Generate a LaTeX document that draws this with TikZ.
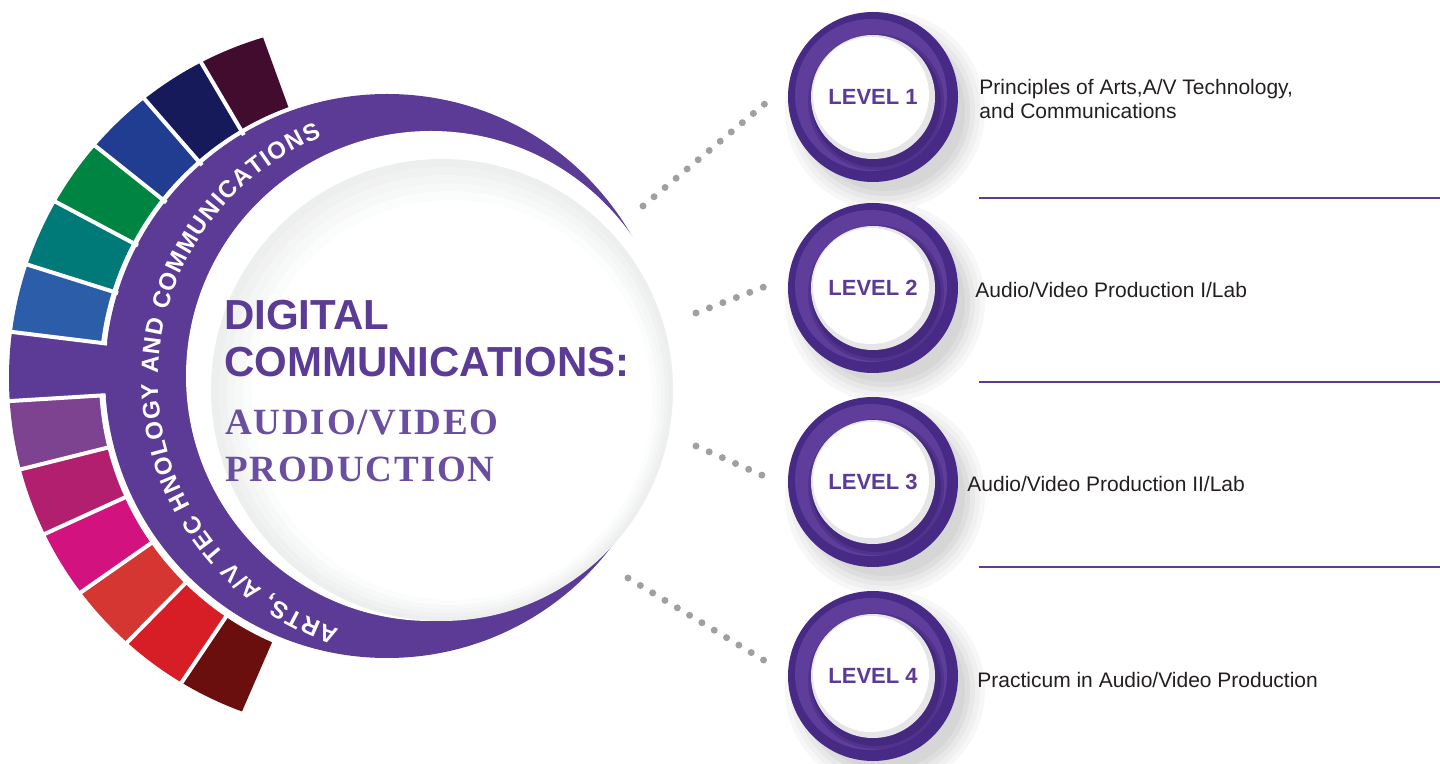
\documentclass[tikz,border=0pt]{standalone}
\usepackage{fontspec}
\setmainfont{Liberation Sans}
\newfontfamily\subfont{Liberation Serif}[LetterSpace=5]
\usetikzlibrary{positioning,decorations.text}

\definecolor{bandpurple}{HTML}{5B3B96}
\definecolor{subpurple}{HTML}{6A4E9F}
\definecolor{levdark}{HTML}{472A86}
\definecolor{levlight}{HTML}{5E3D9B}
\definecolor{levshade}{HTML}{3A2173}
\definecolor{dotgray}{HTML}{A0A0A2}
\definecolor{bodytext}{HTML}{231F20}
\definecolor{discgray}{HTML}{EDEEEE}
\definecolor{btngray}{HTML}{E6E6E8}
\definecolor{segmaroon}{HTML}{420C2E}
\definecolor{segnavy}{HTML}{161A5B}
\definecolor{segblue}{HTML}{213D92}
\definecolor{seggreen}{HTML}{008442}
\definecolor{segteal}{HTML}{007A78}
\definecolor{segsky}{HTML}{2C5DA8}
\definecolor{segviolet}{HTML}{7D4391}
\definecolor{segberry}{HTML}{B21F6F}
\definecolor{segpink}{HTML}{D2127F}
\definecolor{segcoral}{HTML}{D53632}
\definecolor{segred}{HTML}{D71E26}
\definecolor{segbrown}{HTML}{6A0E0E}

\begin{document}
\begin{tikzpicture}[x=1pt, y=1pt,
		sep/.style={white, line width=4pt},
		dots/.style={dotgray, line width=7pt, line cap=round, dash pattern=on 0pt off 14.4pt},
		lvl/.style={circle, minimum size=170pt, inner sep=0pt, fill=levdark, text=bandpurple, font=\fontsize{22}{22}\selectfont\bfseries,
			path picture={
				\fill[levlight] ([shift={(-2pt,2pt)}]path picture bounding box.center) circle (76pt);
				\fill[levlight!65!levshade] ([shift={(3pt,-5pt)}]path picture bounding box.center) circle (68pt);
				\fill[levlight!30!levshade] ([shift={(3pt,-5pt)}]path picture bounding box.center) circle (65pt);
				\fill[btngray] (path picture bounding box.center) circle (62pt);
				\fill[white] ([shift={(-2pt,2pt)}]path picture bounding box.center) circle (58pt);
			}},
		desc/.style={font=\fontsize{21}{24}\selectfont, text=bodytext, inner sep=0pt, align=left},
		rule/.style={bandpurple, line width=2.5pt},
		head/.style={font=\fontsize{42}{42}\selectfont\bfseries, text=bandpurple, inner sep=0pt, anchor=base west},
		sub/.style={font=\subfont\fontsize{37}{37}\selectfont\bfseries, text=subpurple, inner sep=0pt, anchor=base west}]

	\useasboundingbox (0,0) rectangle (1440,763);

	\coordinate (fan) at (387,385);
	\coordinate (rim) at (364,385);
	\coordinate (band) at (387,387);
	\coordinate (hub) at (431,387);
	\coordinate (core) at (442,373);
	\coordinate (ringmid) at (420,383);

	\begin{scope}
		\clip (rim) circle (355pt);
		\fill[segmaroon] (fan) -- ++(110:480) arc[start angle=110, end angle=120.5, radius=480pt] -- cycle;
		\fill[segnavy] (fan) -- ++(120.5:480) arc[start angle=120.5, end angle=131, radius=480pt] -- cycle;
		\fill[segblue] (fan) -- ++(131:480) arc[start angle=131, end angle=141.5, radius=480pt] -- cycle;
		\fill[seggreen] (fan) -- ++(141.5:480) arc[start angle=141.5, end angle=152, radius=480pt] -- cycle;
		\fill[segteal] (fan) -- ++(152:480) arc[start angle=152, end angle=162.5, radius=480pt] -- cycle;
		\fill[segsky] (fan) -- ++(162.5:480) arc[start angle=162.5, end angle=173, radius=480pt] -- cycle;
		\fill[segviolet] (fan) -- ++(183.5:480) arc[start angle=183.5, end angle=194, radius=480pt] -- cycle;
		\fill[segberry] (fan) -- ++(194:480) arc[start angle=194, end angle=204.5, radius=480pt] -- cycle;
		\fill[segpink] (fan) -- ++(204.5:480) arc[start angle=204.5, end angle=215, radius=480pt] -- cycle;
		\fill[segcoral] (fan) -- ++(215:480) arc[start angle=215, end angle=225.5, radius=480pt] -- cycle;
		\fill[segred] (fan) -- ++(225.5:480) arc[start angle=225.5, end angle=236, radius=480pt] -- cycle;
		\fill[segbrown] (fan) -- ++(236:480) arc[start angle=236, end angle=246.5, radius=480pt] -- cycle;
	\end{scope}

	\fill[white] (fan) circle (288pt);
	\fill[bandpurple] (band) circle (282pt);
	\begin{scope}
		\clip (rim) circle (355pt);
		\fill[bandpurple] (fan) -- ++(173:480) arc[start angle=173, end angle=183.5, radius=480pt] -- cycle;
	\end{scope}

	\draw[sep] ([shift={(120.5:282pt)}]fan) -- ([shift={(120.5:400pt)}]fan);
	\draw[sep] ([shift={(131:282pt)}]fan) -- ([shift={(131:400pt)}]fan);
	\draw[sep] ([shift={(141.5:282pt)}]fan) -- ([shift={(141.5:400pt)}]fan);
	\draw[sep] ([shift={(152:282pt)}]fan) -- ([shift={(152:400pt)}]fan);
	\draw[sep] ([shift={(162.5:282pt)}]fan) -- ([shift={(162.5:400pt)}]fan);
	\draw[sep] ([shift={(173:282pt)}]fan) -- ([shift={(173:400pt)}]fan);
	\draw[sep] ([shift={(183.5:282pt)}]fan) -- ([shift={(183.5:400pt)}]fan);
	\draw[sep] ([shift={(194:282pt)}]fan) -- ([shift={(194:400pt)}]fan);
	\draw[sep] ([shift={(204.5:282pt)}]fan) -- ([shift={(204.5:400pt)}]fan);
	\draw[sep] ([shift={(215:282pt)}]fan) -- ([shift={(215:400pt)}]fan);
	\draw[sep] ([shift={(225.5:282pt)}]fan) -- ([shift={(225.5:400pt)}]fan);
	\draw[sep] ([shift={(236:282pt)}]fan) -- ([shift={(236:400pt)}]fan);

	\fill[white] (hub) circle (245pt);
	\fill[discgray] (core) circle (231pt);
	\fill[discgray!80!white] ([shift={(2pt,-2pt)}]core) circle (225pt);
	\fill[discgray!60!white] ([shift={(4pt,-4pt)}]core) circle (219pt);
	\fill[discgray!40!white] ([shift={(6pt,-6pt)}]core) circle (213pt);
	\fill[discgray!20!white] ([shift={(8pt,-8pt)}]core) circle (207pt);
	\fill[white] ([shift={(10pt,-10pt)}]core) circle (200pt);

	\path[decorate, decoration={text along path, text={|\fontsize{24}{24}\selectfont\bfseries|ARTS, A/V TEC HNOLOGY AND COMMUNICATIONS}, text color=white, text align=fit to path}]
		([shift={(252:262pt)}]ringmid) arc[start angle=252, end angle=112, radius=262pt];

	\node[head] (digital) at (224,433) {DIGITAL};
	\node[head] (comms) at (224,386) {COMMUNICATIONS:};
	\node[sub] (audio) at (225,328) {AUDIO/VIDEO};
	\node[sub] (prod) at (225,281) {PRODUCTION};

	\coordinate (c1) at (873,666);
	\coordinate (c2) at (873,475);
	\coordinate (c3) at (873,281);
	\coordinate (c4) at (873,87);

	\foreach \c in {c1,c2,c3,c4} {
		\fill[white!97!black] ([shift={(12pt,-14pt)}]\c) circle (100pt);
		\fill[white!94!black] ([shift={(12pt,-14pt)}]\c) circle (95pt);
		\fill[white!91!black] ([shift={(12pt,-14pt)}]\c) circle (90pt);
		\fill[white!87!black] ([shift={(12pt,-14pt)}]\c) circle (85pt);
		\fill[white!84!black] ([shift={(12pt,-14pt)}]\c) circle (80pt);
	}

	\node[lvl] (lv1) at (c1) {LEVEL 1};
	\node[lvl] (lv2) at (c2) {LEVEL 2};
	\node[lvl] (lv3) at (c3) {LEVEL 3};
	\node[lvl] (lv4) at (c4) {LEVEL 4};

	\coordinate (s1) at (643,557);
	\coordinate (s2) at (696,450);
	\coordinate (s3) at (696,317);
	\coordinate (s4) at (628,185);
	\coordinate (e1) at ([shift={(-22pt,-6pt)}]lv1.west);
	\coordinate (e2) at ([shift={(-24pt,1pt)}]lv2.west);
	\coordinate (e3) at ([shift={(-24pt,6pt)}]lv3.west);
	\coordinate (e4) at ([shift={(-21pt,14pt)}]lv4.west);

	\draw[dots] (s1) -- (e1);
	\draw[dots] (s2) -- (e2);
	\draw[dots] (s3) -- (e3);
	\draw[dots] (s4) -- (e4);

	\node[desc, right=21pt of lv1, yshift=-2pt] (d1) {Principles of Arts,A/V Technology,\\and Communications};
	\node[desc, right=17pt of lv2, yshift=-2pt] (d2) {Audio/Video Production I/Lab};
	\node[desc, right=9pt of lv3, yshift=-2pt] (d3) {Audio/Video Production II/Lab};
	\node[desc, right=19pt of lv4, yshift=-4pt] (d4) {Practicum in Audio/Video Production};

	\draw[rule] (979,565) -- (1440,565);
	\draw[rule] (979,381) -- (1440,381);
	\draw[rule] (979,196) -- (1440,196);

\end{tikzpicture}
\end{document}
